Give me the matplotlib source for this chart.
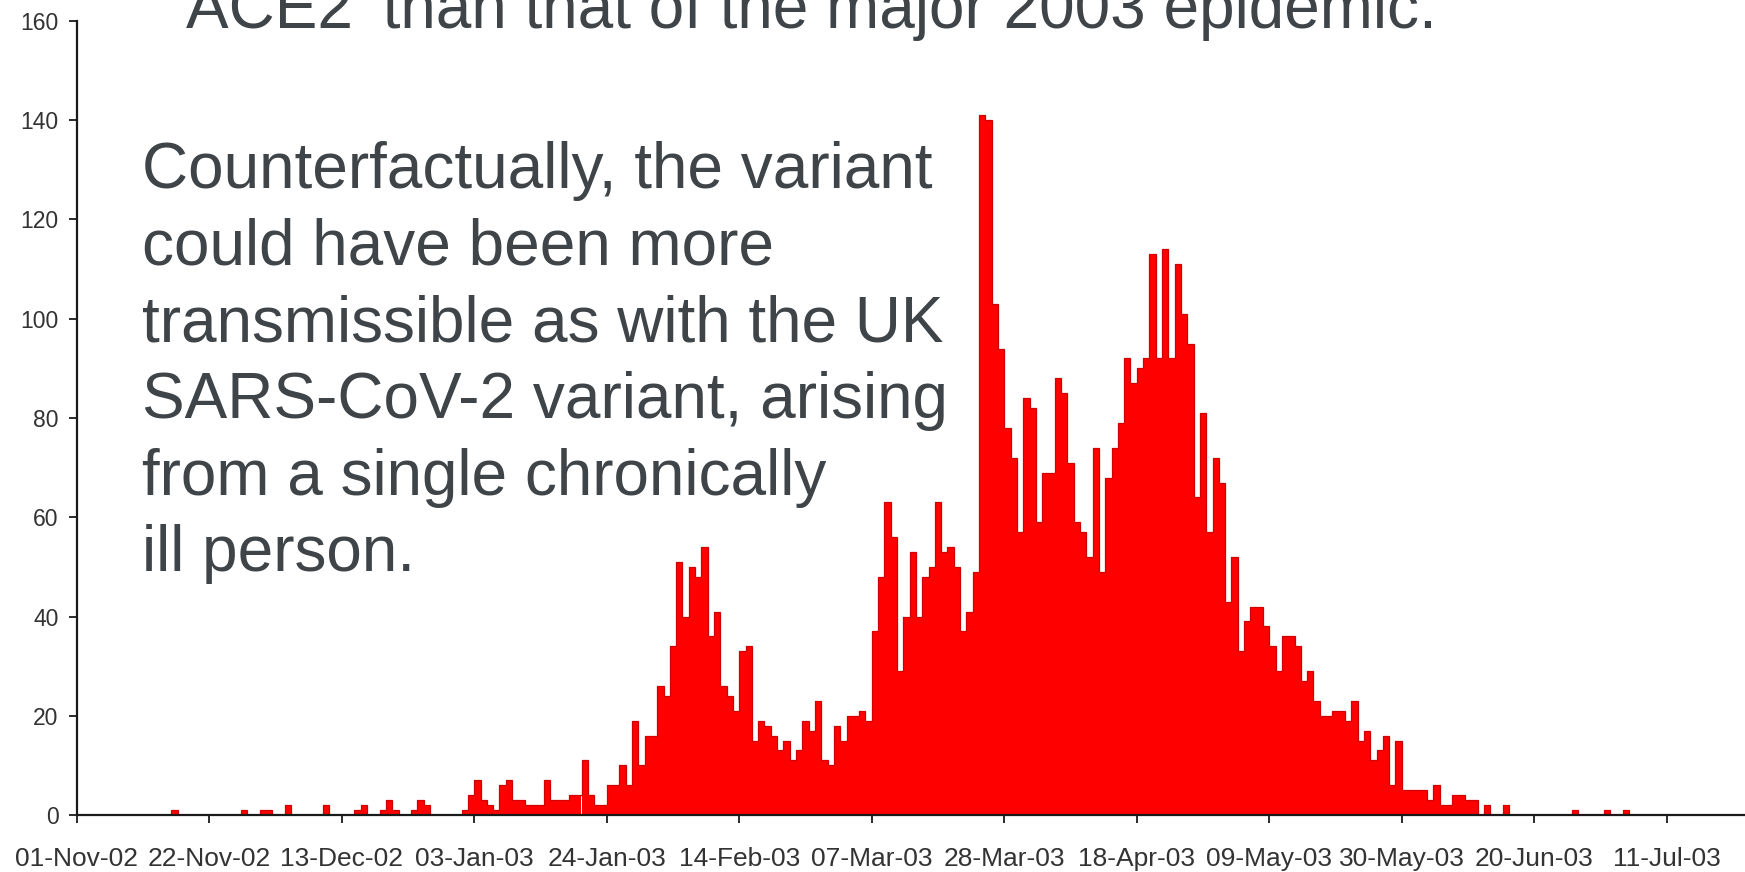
import numpy as np
import matplotlib
matplotlib.use("Agg")
import matplotlib.pyplot as plt

# ---------------- data ----------------
# day index 0 = 01-Nov-02
tick_labels = ["01-Nov-02", "22-Nov-02", "13-Dec-02", "03-Jan-03", "24-Jan-03",
               "14-Feb-03", "07-Mar-03", "28-Mar-03", "18-Apr-03", "09-May-03",
               "30-May-03", "20-Jun-03", "11-Jul-03"]
tick_days = [0, 21, 42, 63, 84, 105, 126, 147, 168, 189, 210, 231, 252]

early_days = [15, 26, 29, 30, 33, 39, 44, 45, 48, 49, 50, 53, 54, 55]
early_cases = [1, 1, 1, 1, 2, 2, 1, 2, 1, 3, 1, 1, 3, 2]

main_start_day = 61
main_cases = [
    1, 4, 7, 3, 2, 1, 6, 7, 3, 3,            # 61-70
    2, 2, 2, 7, 3, 3, 3, 4, 4, 11,           # 71-80
    4, 2, 2, 6, 6, 10, 6, 19, 10, 16,        # 81-90
    16, 26, 24, 34, 51, 40, 50, 48, 54, 36,  # 91-100
    41, 26, 24, 21, 33, 34, 15, 19, 18, 16,  # 101-110
    13, 15, 11, 13, 19, 17, 23, 11, 10, 18,  # 111-120
    15, 20, 20, 21, 19, 37, 48, 63, 56, 29,  # 121-130
    40, 53, 40, 48, 50, 63, 53, 54, 50, 37,  # 131-140
    41, 49, 141, 140, 103, 94, 78, 72, 57, 84,   # 141-150
    82, 59, 69, 69, 88, 85, 71, 59, 57, 52,  # 151-160
    74, 49, 68, 74, 79, 92, 87, 90, 92, 113, # 161-170
    92, 114, 92, 111, 101, 95, 64, 81, 57, 72,   # 171-180
    67, 43, 52, 33, 39, 42, 42, 38, 34, 29,  # 181-190
    36, 36, 34, 27, 29, 23, 20, 20, 21, 21,  # 191-200
    19, 23, 15, 17, 11, 13, 16, 6, 15, 5,    # 201-210
    5, 5, 5, 3, 6, 2, 2, 4, 4, 3,            # 211-220
    3,                                        # 221
]

late_days = [223, 226, 237, 242, 245]
late_cases = [2, 2, 1, 1, 1]

header_text = "ACE2\u2019 than that of the major 2003 epidemic."
body_lines = ["Counterfactually, the variant",
              "could have been more",
              "transmissible as with the UK",
              "SARS-CoV-2 variant, arising",
              "from a single chronically",
              "ill person."]

# ---------------- assemble series ----------------
days = (early_days
        + list(range(main_start_day, main_start_day + len(main_cases)))
        + late_days)
cases = early_cases + main_cases + late_cases

W, H = 1745, 872
fig = plt.figure(figsize=(W / 100, H / 100), dpi=100)
fig.patch.set_facecolor("white")

x0_px, y0_px, ytop_px = 76.7, 815, 21
ax = fig.add_axes([x0_px / W, (H - y0_px) / H, (W - x0_px) / W, (y0_px - ytop_px) / H])
ax.set_facecolor("none")

xmax = (W - x0_px) / 6.31
ax.set_xlim(0, xmax)
ax.set_ylim(0, 160)

ax.bar(days, cases, width=1.0, align="edge", color="#ff0000", linewidth=0, zorder=2)

# thin darker outline of the bar tops
full = np.zeros(int(np.ceil(xmax)) + 1)
for d, c in zip(days, cases):
    full[d] = c
edges = np.arange(len(full) + 1)
ax.stairs(full, edges, color="#d00000", linewidth=0.9, zorder=3)

for s in ["top", "right"]:
    ax.spines[s].set_visible(False)
for s in ["left", "bottom"]:
    ax.spines[s].set_color("#1a1a1a")
    ax.spines[s].set_linewidth(1.6)
    ax.spines[s].set_zorder(4)

tick_font = ["Liberation Sans Narrow", "Liberation Sans", "DejaVu Sans"]

ax.set_yticks(np.arange(0, 161, 20))
ax.set_xticks(tick_days)
ax.set_xticklabels(tick_labels)
ax.tick_params(axis="y", direction="out", length=6, width=1.3, pad=7,
               labelsize=16.5, colors="#1a1a1a", labelcolor="#333333")
ax.tick_params(axis="x", direction="out", length=6, width=1.3, pad=17,
               labelsize=19, colors="#1a1a1a", labelcolor="#333333")
for lab in ax.get_xticklabels() + ax.get_yticklabels():
    lab.set_family(tick_font)

txt_color = "#3f4448"
txt_font = ["Liberation Sans", "Arial", "DejaVu Sans"]
fig.text(186 / W, 1 - 28 / H, header_text, fontsize=46, color=txt_color,
         ha="left", va="baseline", family=txt_font)

base0, step = 187.5, 76.8
for i, line in enumerate(body_lines):
    fig.text(141.5 / W, 1 - (base0 + i * step) / H, line, fontsize=46,
             color=txt_color, ha="left", va="baseline", family=txt_font)

fig.savefig("out.png", dpi=100, facecolor="white")
